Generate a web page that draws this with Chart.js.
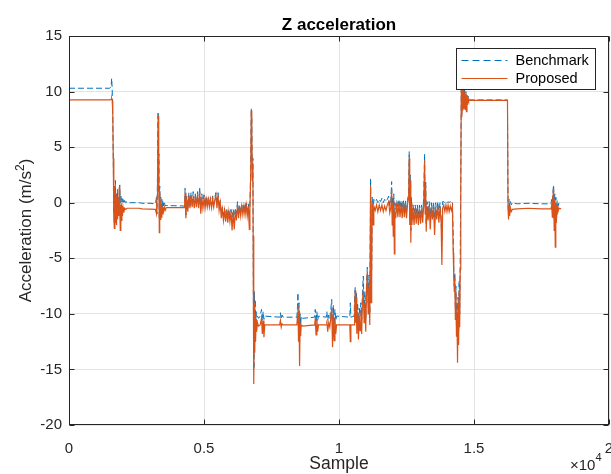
<!DOCTYPE html>
<html>
<head>
<meta charset="utf-8">
<script src="https://cdn.jsdelivr.net/npm/chart.js@4.4.1/dist/chart.umd.min.js"></script>
<style>
  html, body { margin: 0; padding: 0; background: #fff; }
</style>
</head>
<body>
<canvas id="accelChart" width="611" height="474"></canvas>
<script>
// sample index (x)
const samples = [
  0, 1500, 1560, 1580, 1600, 1620, 1640, 1660, 1680, 1700, 1720, 1740, 1760, 1780, 1800, 1820, 1840, 1860, 1880, 1900, 1920, 1940, 1960, 1980, 2000, 2030, 2060, 2100, 2150, 2200,
  2600, 2700, 3000, 3200, 3240, 3260, 3280, 3300, 3315, 3330, 3345, 3360, 3380, 3400, 3420, 3440, 3460, 3480, 3500, 3530, 3560, 3600,
  4280, 4300, 4330, 4360, 4400, 4440, 4480, 4520, 4560, 4600, 4640, 4680, 4720, 4760, 4800, 4840, 4880, 4920, 4960, 5000, 5040, 5080, 5120, 5160, 5200, 5240, 5280, 5320, 5360, 5400, 5440, 5480, 5520, 5560,
  5600, 5640, 5680, 5720, 5760, 5800, 5840, 5880, 5920, 5960, 6000, 6040, 6080, 6120, 6160, 6200, 6240, 6280, 6320, 6360, 6400, 6440, 6480, 6520, 6560, 6600, 6640, 6680, 6700,
  6730, 6750, 6770, 6790, 6810, 6820, 6835, 6850, 6865, 6880, 6895, 6910, 6930, 6950, 6980, 7020, 7080, 7130, 7160, 7190, 7220, 7250,
  7800, 7830, 7860, 7890, 7930, 8440, 8460, 8480, 8500, 8520, 8540, 8560, 8580, 8600, 8650, 9100, 9120, 9150, 9180, 9210, 9240, 9530, 9550, 9580, 9620, 9660, 9700, 9730, 9760, 9790, 9820, 9850, 9880, 9910,
  10400, 10420, 10440, 10560, 10580, 10600, 10620, 10640, 10660, 10690, 10720, 10750, 10780, 10810, 10840, 10870, 10900, 10930, 10960, 10990, 11020, 11050, 11080, 11110, 11140, 11170, 11190, 11210, 11230, 11260, 11290,
  11340, 11390, 11440, 11490, 11540, 11590, 11640, 11690, 11740, 11790, 11840, 11880, 11920, 11950, 11970, 11990, 12010, 12030, 12050, 12070, 12100, 12140, 12180, 12220, 12260, 12300, 12340, 12380, 12420, 12460, 12500, 12540, 12580, 12600, 12620, 12640, 12660, 12680, 12700, 12740, 12780, 12820, 12860, 12900, 12940, 12980, 13020, 13060, 13100,
  13140, 13170, 13190, 13210, 13230, 13260, 13300, 13340, 13380, 13420, 13460, 13500, 13540, 13580, 13620, 13660, 13700, 13740, 13780, 13810, 13840, 13880, 13920, 13960, 14000, 14040, 14080, 14120, 14160, 14200,
  14230, 14250, 14270, 14290, 14310, 14330, 14350, 14370, 14390, 14410, 14430, 14450, 14470, 14490, 14510, 14530, 14550, 14570, 14590, 14610, 14630, 14650, 14670, 14700, 14720, 14740, 14760, 14780, 14800, 16240,
  16260, 16280, 16300, 16320, 16350, 16380, 16420, 16600, 17000, 17500, 17850, 17880, 17900, 17920, 17950, 17970, 17990, 18010, 18030, 18050, 18080, 18110, 18150, 18230
];

const benchmark = [
  10.3, 10.3, 10.4, 11.2, 10.2, 8.0, 4.0, -1.0, 1.0, -0.5, 2.0, -1.0, 0.8, -0.2, 1.2, -0.8, 0.5, -0.3, 1.6, 0.0, 0.6, -0.4, 0.4, 0.0, 0.3, -0.1, 0.2, 0.0, 0.1, 0.0,
  0.0, -0.05, -0.05, -0.1, 0.5, -1.0, 3.0, 8.2, 2.0, 4.4, -1.5, 1.5, -0.5, 0.5, -0.8, 0.3, -0.4, 0.2, -0.3, 0.1, -0.3, -0.25,
  -0.3, 1.3, -1.1, 0.6, -0.5, 0.9, -0.3, 0.9, -0.2, 1.0, -0.3, 0.8, -0.2, 1.0, -0.3, 1.4, -0.6, 0.8, -0.2, 0.7, -0.3, 0.6, -0.2, 0.5, -0.2, 0.5, -0.2, 0.6, -0.1, 0.5, 0.9, -0.2, 0.9, -0.4,
  0.2, -0.9, -0.4, -1.1, -0.5, -1.2, -0.5, -1.3, -0.6, -1.2, -0.6, -1.3, -0.6, -1.2, -0.6, -1.1, 0.1, -0.9, -0.2, -0.8, -0.2, -0.8, -0.1, -0.8, 0.1, -0.9, -0.1, -1.0, -0.3,
  3.0, 8.5, 7.5, 2.0, 4.0, -2.0, -12.0, -15.0, -8.0, -12.5, -8.7, -11.0, -9.8, -10.8, -10.2, -10.4, -10.2, -9.6, -10.6, -9.8, -10.5, -10.2,
  -10.3, -9.9, -10.5, -10.1, -10.3, -10.3, -9.5, -8.1, -11.5, -9.0, -12.5, -10.0, -11.0, -10.2, -10.4, -10.3, -9.6, -10.8, -9.8, -10.6, -10.2, -10.3, -9.8, -10.6, -10.1, -10.4, -9.5, -8.7, -11.2, -9.2, -11.0, -9.6, -10.6, -10.2,
  -10.3, -9.0, -10.3, -10.2, -8.5, -7.6, -9.5, -8.0, -10.5, -9.0, -11.0, -9.5, -10.2, -9.0, -10.5, -8.0, -6.6, -9.5, -8.0, -10.5, -7.0, -5.8, -9.0, -6.5, -10.0, 2.2, -4.0, -6.0, 0.5, -1.0, 0.3,
  0.1, 0.3, 0.0, 0.3, 0.1, 0.4, 0.0, 0.3, 0.1, 0.3, 0.6, -0.3, 0.2, 1.9, -1.0, 0.5, -1.5, 0.8, -2.5, 0.0, -0.6, 0.2, -0.5, 0.3, -0.5, 0.2, -0.6, 0.3, -0.6, 0.2, -0.7, 0.2, 1.0, 4.6, -1.5, 2.5, -2.5, 0.5, -1.5, -0.2, -1.0, -0.2, -1.0, -0.2, -1.1, -0.2, -1.0, -0.2, -0.9,
  0.5, 4.4, -0.5, 2.0, -2.0, 0.1, -1.0, 0.1, -1.2, 0.0, -1.0, 0.1, -1.3, 0.0, -1.0, 0.1, -1.1, 0.0, -1.2, -3.5, 0.1, 0.1, 0.0, 0.1, 0.0, 0.1, 0.0, 0.1, 0.0, 0.1,
  -3.0, -6.0, -7.5, -6.3, -9.5, -7.5, -11.0, -9.0, -13.0, -8.5, -11.5, -7.0, -10.0, -5.0, 2.0, 10.8, 8.0, 11.0, 8.5, 10.8, 8.8, 10.2, 8.6, 10.0, 8.4, 9.8, 9.0, 9.6, 9.25, 9.25,
  0.0, -1.0, 0.3, -0.4, 0.1, -0.2, 0.0, -0.1, -0.05, -0.1, -0.1, 0.3, -0.8, 1.0, 1.6, -1.5, 0.8, -2.5, 0.5, -1.0, 0.2, -0.3, 0.0, -0.05
];

const proposed = [
  9.25, 9.25, 9.3, 9.4, 9.2, 8.2, 4.0, -1.5, -2.3, 1.5, -1.8, 0.8, -2.0, 0.5, -1.5, 0.2, -1.2, 1.4, -0.6, -2.5, -0.2, -1.6, -0.3, -1.2, -0.4, -0.9, -0.5, -0.6, -0.5, -0.5,
  -0.5, -0.55, -0.57, -0.6, -1.0, 0.5, 2.0, 7.8, 1.0, 4.0, -2.7, 1.0, -1.5, 0.2, -1.3, -0.2, -1.0, -0.4, -0.8, -0.4, -0.7, -0.45,
  -0.45, 0.9, -1.4, 0.4, -0.8, 0.6, -0.5, 0.7, -0.4, 0.6, -0.5, 0.6, -0.4, 0.7, -0.5, 1.0, -1.0, 0.5, -0.5, 0.4, -0.5, 0.3, -0.4, 0.3, -0.4, 0.3, -0.45, 0.3, -0.4, 0.2, 0.7, -0.5, 0.7, -0.7,
  0.0, -1.4, -0.6, -1.6, -0.7, -1.7, -0.7, -1.8, -0.8, -1.7, -0.8, -2.5, -0.8, -2.4, -0.7, -1.6, -0.2, -1.4, -0.3, -1.2, -0.3, -1.1, -0.3, -1.1, -0.2, -1.2, -0.3, -2.4, -0.6,
  2.5, 8.3, 6.5, 2.0, 3.5, -3.0, -13.0, -16.3, -9.0, -13.5, -10.0, -12.5, -10.5, -11.6, -10.8, -11.1, -11.0, -10.4, -11.8, -10.6, -12.1, -11.0,
  -11.0, -10.6, -11.2, -10.9, -11.0, -11.0, -10.2, -9.2, -12.5, -9.8, -14.7, -10.8, -12.0, -11.0, -11.1, -11.0, -10.4, -11.9, -10.5, -11.6, -11.0, -11.0, -10.6, -11.6, -10.8, -11.2, -10.2, -9.5, -13.0, -10.0, -12.4, -10.3, -11.8, -11.0,
  -11.0, -12.5, -11.0, -11.0, -9.5, -7.9, -10.8, -8.5, -11.8, -9.8, -12.3, -10.2, -11.5, -9.8, -11.8, -8.8, -7.9, -10.8, -9.0, -11.6, -7.8, -6.2, -10.0, -7.5, -11.0, 1.5, -9.0, -7.0, 0.0, -2.0, -0.3,
  -0.7, -0.2, -0.8, -0.2, -0.7, -0.2, -0.8, -0.3, -0.7, -0.2, 0.1, -0.9, -0.4, 1.2, -2.0, 0.0, -3.0, 0.2, -4.6, -0.8, -1.4, 0.0, -1.3, 0.0, -1.3, -0.1, -1.4, 0.0, -1.3, -0.1, -1.4, -0.1, 0.5, 4.0, -2.0, 2.0, -3.6, 0.0, -2.0, -0.5, -2.0, -0.5, -1.9, -0.5, -2.0, -0.5, -1.9, -0.5, -1.8,
  0.0, 3.8, -1.0, 1.5, -2.6, -0.3, -1.6, -0.3, -2.4, -0.4, -1.5, -0.3, -2.9, -0.4, -1.5, -0.3, -1.8, -0.4, -1.6, -5.6, -0.5, -0.2, -0.8, -0.2, -0.8, -0.2, -0.8, -0.3, -0.7, -0.3,
  -4.5, -6.5, -8.0, -6.8, -10.5, -8.0, -12.0, -10.0, -14.4, -9.0, -12.8, -8.0, -11.2, -6.0, 1.0, 10.5, 7.7, 11.0, 8.3, 10.6, 8.5, 10.0, 8.4, 9.8, 8.2, 9.6, 8.8, 9.4, 9.2, 9.2,
  -0.5, -1.5, -0.3, -1.2, -0.5, -0.8, -0.6, -0.55, -0.5, -0.55, -0.55, -0.2, -1.3, 0.5, 1.2, -2.5, 0.3, -4.0, 0.0, -1.8, -0.3, -0.8, -0.5, -0.55
];

const xTicks = [0, 5000, 10000, 15000, 20000];
const yTicks = [-20, -15, -10, -5, 0, 5, 10, 15];

const FONT = "'Liberation Sans', Arial, Helvetica, sans-serif";
const AXIS_COLOR = '#262626';
const BLUE = '#0072BD';
const ORANGE = '#D95319';

const toPoints = (values) => values.map((y, i) => ({ x: samples[i], y }));

// box, inward ticks and legend, like a MATLAB axes
const framePlugin = {
  id: 'frame',
  afterDatasetsDraw(chart) {
    const { ctx, chartArea: a, scales } = chart;
    const left = Math.round(a.left) + 0.5;
    const right = Math.round(a.right) - 0.5;
    const top = Math.round(a.top) + 0.5;
    const bottom = Math.round(a.bottom) - 0.5;

    ctx.save();
    ctx.strokeStyle = AXIS_COLOR;
    ctx.lineWidth = 1;
    ctx.beginPath();
    xTicks.forEach((v) => {
      const px = Math.round(scales.x.getPixelForValue(v)) + 0.5;
      ctx.moveTo(px, bottom); ctx.lineTo(px, bottom - 5);
      ctx.moveTo(px, top); ctx.lineTo(px, top + 5);
    });
    yTicks.forEach((v) => {
      const py = Math.round(scales.y.getPixelForValue(v)) + 0.5;
      ctx.moveTo(left, py); ctx.lineTo(left + 5, py);
      ctx.moveTo(right, py); ctx.lineTo(right - 5, py);
    });
    ctx.stroke();
    ctx.strokeRect(left, top, right - left, bottom - top);

    // legend
    const lx = right - 152;
    const ly = top + 12;
    const lw = 139;
    const lh = 41;
    ctx.fillStyle = '#fff';
    ctx.fillRect(lx, ly, lw, lh);
    ctx.strokeStyle = AXIS_COLOR;
    ctx.strokeRect(lx, ly, lw, lh);

    ctx.lineWidth = 1;
    ctx.strokeStyle = BLUE;
    ctx.setLineDash([7, 4]);
    ctx.beginPath();
    ctx.moveTo(lx + 5, ly + 12); ctx.lineTo(lx + 51, ly + 12);
    ctx.stroke();
    ctx.setLineDash([]);
    ctx.strokeStyle = ORANGE;
    ctx.beginPath();
    ctx.moveTo(lx + 5, ly + 30); ctx.lineTo(lx + 51, ly + 30);
    ctx.stroke();

    ctx.fillStyle = '#000';
    ctx.font = `14.5px ${FONT}`;
    ctx.textAlign = 'left';
    ctx.textBaseline = 'middle';
    ctx.fillText('Benchmark', lx + 59, ly + 12);
    ctx.fillText('Proposed', lx + 59, ly + 30);
    ctx.restore();
  },
  afterDraw(chart) {
    const { ctx, chartArea: a } = chart;
    const cx = (a.left + a.right) / 2;
    ctx.save();
    ctx.fillStyle = '#000';
    ctx.textAlign = 'center';
    ctx.textBaseline = 'alphabetic';
    ctx.font = `bold 17px ${FONT}`;
    ctx.fillText('Z acceleration', cx, 30);

    ctx.fillStyle = AXIS_COLOR;
    ctx.font = `17.5px ${FONT}`;
    ctx.fillText('Sample', cx, 469);

    // exponent label
    ctx.textAlign = 'left';
    ctx.font = `15px ${FONT}`;
    const wBase = ctx.measureText('\u00d710').width;
    ctx.fillText('\u00d710', 570, 470);
    ctx.font = `11px ${FONT}`;
    ctx.fillText('4', 570 + wBase, 461);

    // y title with superscript
    ctx.translate(31, (a.top + a.bottom) / 2);
    ctx.rotate(-Math.PI / 2);
    const main = 'Acceleration (m/s';
    ctx.font = `17px ${FONT}`;
    const wMain = ctx.measureText(main).width;
    const wTail = ctx.measureText(')').width;
    ctx.font = `12px ${FONT}`;
    const wSup = ctx.measureText('2').width;
    const x0 = -(wMain + wSup + wTail) / 2;
    ctx.font = `17px ${FONT}`;
    ctx.fillText(main, x0, 0);
    ctx.font = `12px ${FONT}`;
    ctx.fillText('2', x0 + wMain, -7);
    ctx.font = `17px ${FONT}`;
    ctx.fillText(')', x0 + wMain + wSup, 0);
    ctx.restore();
  }
};

const chart = new Chart(document.getElementById('accelChart'), {
  type: 'line',
  data: {
    datasets: [
      {
        label: 'Benchmark',
        data: toPoints(benchmark),
        borderColor: BLUE,
        borderWidth: 1,
        borderDash: [6, 3],
        pointRadius: 0,
        tension: 0,
        order: 1
      },
      {
        label: 'Proposed',
        data: toPoints(proposed),
        borderColor: ORANGE,
        borderWidth: 1.2,
        pointRadius: 0,
        tension: 0,
        order: 0
      }
    ]
  },
  options: {
    responsive: false,
    animation: false,
    events: [],
    layout: { padding: { top: 36, right: 2, left: 0, bottom: 0 } },
    plugins: {
      legend: { display: false },
      title: { display: false },
      tooltip: { enabled: false }
    },
    scales: {
      x: {
        type: 'linear',
        min: 0,
        max: 20000,
        afterFit: (scale) => {
          scale.height = 49;
          scale.paddingLeft = 0;
          scale.paddingRight = 0;
        },
        afterBuildTicks: (scale) => { scale.ticks = xTicks.map((value) => ({ value })); },
        grid: { color: '#e3e3e3', drawTicks: false },
        border: { display: false },
        ticks: {
          padding: 15,
          color: AXIS_COLOR,
          font: { family: FONT, size: 15 },
          maxRotation: 0,
          callback: (value) => String(value / 10000)
        }
      },
      y: {
        type: 'linear',
        min: -20,
        max: 15,
        afterFit: (scale) => {
          scale.width = 69;
          scale.paddingTop = 0;
          scale.paddingBottom = 0;
        },
        afterBuildTicks: (scale) => { scale.ticks = yTicks.map((value) => ({ value })); },
        grid: { color: '#e3e3e3', drawTicks: false },
        border: { display: false },
        ticks: {
          padding: 7,
          color: AXIS_COLOR,
          font: { family: FONT, size: 15 }
        }
      }
    }
  },
  plugins: [framePlugin]
});
</script>
</body>
</html>
